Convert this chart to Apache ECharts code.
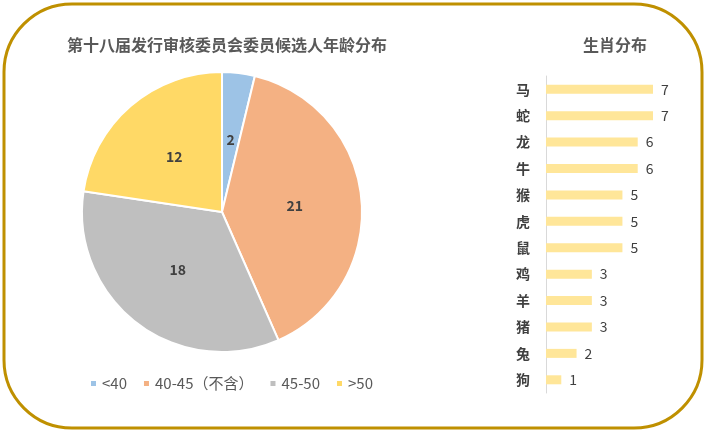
<!DOCTYPE html>
<html><head><meta charset="utf-8">
<script src="https://cdn.jsdelivr.net/npm/echarts@6/dist/echarts.min.js"></script>
<style>html,body{margin:0;padding:0;background:#fff}#c{width:707px;height:434px}</style>
</head><body><div id="c"></div>
<script>
var ageCategories = ['<40', '40-45（不含）', '45-50', '>50'];
var ageValues = [2, 21, 18, 12];
var ageColors = ['#9DC3E6', '#F4B183', '#BFBFBF', '#FFD966'];
var zodiacCategories = ['马', '蛇', '龙', '牛', '猴', '虎', '鼠', '鸡', '羊', '猪', '兔', '狗'];
var zodiacValues = [7, 7, 6, 6, 5, 5, 5, 3, 3, 3, 2, 1];

var chart = echarts.init(document.getElementById('c'));
var font = '"Noto Sans CJK SC", "Microsoft YaHei", sans-serif';
chart.setOption({
  animation: false,
  textStyle: {fontFamily: font},
  graphic: [{
    type: 'rect', shape: {x: 4, y: 4, width: 698, height: 424, r: 68},
    style: {fill: 'none', stroke: '#BF9000', lineWidth: 3}, z: 100
  }],
  title: [
    {text: '第十八届发行审核委员会委员候选人年龄分布', left: 222, top: 32, textAlign: 'center',
     textStyle: {fontSize: 16, fontWeight: 'bold', color: '#595959', fontFamily: font}},
    {text: '生肖分布', left: 610, top: 32, textAlign: 'center',
     textStyle: {fontSize: 16, fontWeight: 'bold', color: '#595959', fontFamily: font}}
  ],
  legend: {
    data: ageCategories, left: 84, top: 371, icon: 'rect', itemWidth: 7, itemHeight: 7,
    itemGap: 15, textStyle: {fontSize: 15, color: '#595959', fontFamily: font}
  },
  grid: {left: 546, top: 76, width: 107, height: 317},
  xAxis: {type: 'value', min: 0, max: 7, show: false},
  yAxis: {
    type: 'category', data: zodiacCategories, inverse: true,
    axisLine: {show: true, lineStyle: {color: '#D9D9D9'}},
    axisTick: {show: false},
    axisLabel: {margin: 16, fontSize: 14, fontWeight: 'bold', color: '#404040', fontFamily: font}
  },
  series: [
    {
      type: 'pie', center: [222, 212], radius: 140, startAngle: 90, clockwise: true,
      data: ageCategories.map(function (n, i) {
        return {name: n, value: ageValues[i], itemStyle: {color: ageColors[i]}};
      }),
      itemStyle: {borderColor: '#fff', borderWidth: 2},
      label: {position: 'inner', formatter: '{c}', fontSize: 14, fontWeight: 'bold', color: '#404040'},
      labelLine: {show: false}
    },
    {
      type: 'bar', data: zodiacValues, barWidth: 9, itemStyle: {color: '#FFE699'},
      label: {show: true, position: 'right', distance: 8, fontSize: 14, color: '#404040'}
    }
  ]
});
</script></body></html>
